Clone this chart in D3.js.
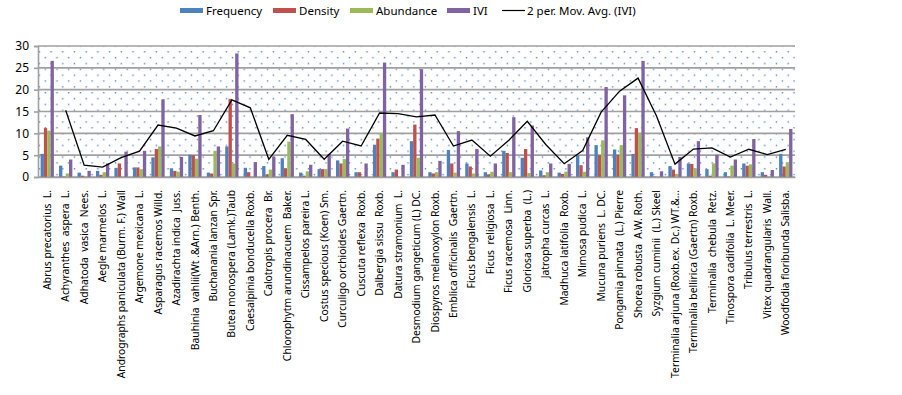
<!DOCTYPE html>
<html>
<head>
<meta charset="utf-8">
<script src="https://cdn.jsdelivr.net/npm/d3@7"></script>
<style>
    body { margin: 0; background: #fff; }
    svg text { font-family: "Noto Sans", sans-serif; fill: #000; }
    .xlab { white-space: pre; }
</style>
</head>
<body>
<script>
const width = 902
    , height = 395;
const margin = {left: 38, right: 107, top: 46, bottom: 218};
const plotw = width - margin.left - margin.right
    , ploth = height - margin.top - margin.bottom;

const species = [
    "Abrus precatorius  L.", "Achyranthes  aspera  L.", "Adhatoda  vasica  Nees.", "Aegle marmelos  L.",
    "Andrographs paniculata (Burm. F.) Wall", "Argemone mexicana  L.", "Asparagus racemos Willd.",
    "Azadirachta indica  Juss.", "Bauhinia  vahlii(Wt .&Arn.) Benth.", "Buchanania lanzan Spr.",
    "Butea monospera (Lamk.)Taub", "Caesalpinia bonducella Roxb.", "Calotropis procera  Br.",
    "Chlorophytm arundinacuem  Baker.", "Cissampelos pareira L.", "Costus specious (Koen) Sm.",
    "Curculigo orchioides Gaertn.", "Cuscuta reflexa  Roxb.", "Dalbergia sissu  Roxb.",
    "Datura stramonium  L.", "Desmodium gangeticum (L) DC.", "Diospyros melanoxylon Roxb.",
    "Emblica officinalis  Gaertn.", "Ficus bengalensis  L.", "Ficus  religiosa  L.",
    "Ficus racemosa  Linn.", "Gloriosa superba  (L.)", "Jatropha curcas  L.", "Madhuca latifolia  Roxb.",
    "Mimosa pudica  L.", "Mucuna puriens  L. DC.", "Pongamia pinnata  (L.) Pierre",
    "Shorea robusta  A.W. Roth.", "Syzgium cuminii  (L.) Skeel", "Terminalia arjuna (Roxb.ex. Dc.) WT.&...",
    "Terminalia bellirica (Gaertn) Roxb.", "Terminalia  chebula  Retz.", "Tinospora cadifolia  L. Meer.",
    "Tribulus terrestris  L.", "Vitex quadrangularis  Wall.", "Woodfodia floribunda Salisba."
];

const frequency = [5.3, 2.6, 1.0, 1.4, 2.1, 2.2, 4.5, 2.0, 5.1, 1.0, 7.0, 2.1, 2.5, 4.3, 1.0, 1.8, 3.8, 1.1, 7.4, 1.1,
    8.2, 1.1, 6.2, 3.1, 1.1, 6.0, 4.4, 1.5, 1.0, 5.0, 7.3, 6.3, 5.3, 1.1, 2.5, 3.1, 1.8, 1.1, 3.1, 1.1, 5.3];
const density = [11.2, 0.1, 0.3, 0.5, 3.1, 2.2, 6.4, 1.4, 5.0, 0.8, 17.9, 1.1, 0.6, 2.0, 0.3, 1.8, 3.1, 1.1, 8.8, 1.7,
    12.0, 0.8, 3.1, 2.4, 0.6, 5.5, 6.4, 0.4, 0.7, 2.7, 5.0, 5.1, 11.2, 0.1, 1.7, 3.0, 0.3, 0.1, 2.6, 0.5, 2.4];
const abundance = [10.6, 0.8, 0.1, 1.1, 0.1, 1.8, 7.0, 1.2, 4.2, 6.0, 3.1, 0.1, 1.7, 8.1, 1.3, 1.8, 4.1, 0.1, 10.0, 0.1,
    4.4, 1.1, 1.0, 0.8, 1.2, 1.1, 0.9, 1.1, 1.2, 1.2, 8.4, 7.3, 10.0, 0.1, 0.7, 2.0, 3.1, 2.6, 2.9, 0.1, 3.4];
const ivi = [26.6, 4.0, 1.4, 3.1, 5.8, 6.0, 17.8, 4.6, 14.2, 7.0, 28.3, 3.4, 4.7, 14.4, 2.8, 5.3, 11.1, 3.1, 26.2, 2.8,
    24.7, 3.7, 10.5, 6.4, 3.1, 13.7, 11.8, 3.1, 3.0, 9.1, 20.6, 18.7, 26.6, 1.3, 4.6, 8.2, 5.1, 4.0, 8.7, 1.6, 11.0];

const seriesNames = ["Frequency", "Density", "Abundance", "IVI"];
const seriesColors = ["#4f81bd", "#c0504d", "#9bbb59", "#8064a2"];
const yTicks = [0, 5, 10, 15, 20, 25, 30];

var table = species.map(function(s, i) {
    return {name: s, values: [frequency[i], density[i], abundance[i], ivi[i]]};
});

// 2 period moving average of IVI (starts at the second species)
var movAvg = [];
for (let i = 1; i < ivi.length; i++) {
    movAvg.push({i: i, v: (ivi[i - 1] + ivi[i]) / 2});
}

var svg = d3.select("body").append("svg")
    .attr("width", width)
    .attr("height", height);

var defs = svg.append("defs");
var pat = defs.append("pattern")
    .attr("id", "dots")
    .attr("patternUnits", "userSpaceOnUse")
    .attr("x", margin.left)
    .attr("y", margin.top)
    .attr("width", 11.7)
    .attr("height", 11.7);
pat.append("rect").attr("x", 3.7).attr("y", 0).attr("width", 1.4).attr("height", 1.4).attr("fill", "#4f86cc");
pat.append("rect").attr("x", 9.5).attr("y", 5.9).attr("width", 1.4).attr("height", 1.4).attr("fill", "#4f86cc");

var g = svg.append("g")
    .attr("transform", "translate(" + margin.left + "," + margin.top + ")");

var x0 = d3.scaleBand()
    .domain(d3.range(species.length))
    .range([0, plotw])
    .paddingInner(0.28)
    .paddingOuter(0.14);
var x1 = d3.scaleBand()
    .domain(d3.range(4))
    .range([0, x0.bandwidth()]);
var y = d3.scaleLinear()
    .domain([0, 30])
    .range([ploth, 0]);

g.append("rect")
    .attr("width", plotw)
    .attr("height", ploth)
    .attr("fill", "url(#dots)");

g.selectAll(".grid")
    .data(yTicks)
    .enter()
    .append("line")
    .attr("class", "grid")
    .attr("x1", 0)
    .attr("x2", plotw)
    .attr("y1", d => y(d))
    .attr("y2", d => y(d))
    .attr("stroke", "#a0a0a0")
    .attr("stroke-width", 1.6);

var yAxis = d3.axisLeft(y)
    .tickValues(yTicks)
    .tickSize(4)
    .tickPadding(5);
var ya = g.append("g")
    .attr("class", "y axis")
    .call(yAxis);
ya.select(".domain").attr("stroke", "#a0a0a0").attr("stroke-width", 1.6);
ya.selectAll(".tick line").attr("stroke", "#a0a0a0").attr("stroke-width", 1.6);
ya.selectAll(".tick text").style("font-size", "12px");

var groups = g.selectAll(".species")
    .data(table)
    .enter()
    .append("g")
    .attr("class", "species")
    .attr("transform", (d, i) => "translate(" + x0(i) + ",0)");
groups.selectAll("rect")
    .data(d => d.values)
    .enter()
    .append("rect")
    .attr("x", (d, j) => x1(j))
    .attr("width", x1.bandwidth())
    .attr("y", d => y(d))
    .attr("height", d => ploth - y(d))
    .attr("fill", (d, j) => seriesColors[j]);

var line = d3.line()
    .x(d => x0(d.i) + x0.bandwidth() / 2)
    .y(d => y(d.v));
g.append("path")
    .datum(movAvg)
    .attr("fill", "none")
    .attr("stroke", "#000")
    .attr("stroke-width", 1.3)
    .attr("d", line);

var xAxis = d3.axisBottom(x0)
    .tickSize(0)
    .tickFormat(i => species[i]);
var xa = g.append("g")
    .attr("class", "x axis")
    .attr("transform", "translate(0," + ploth + ")")
    .call(xAxis);
xa.select(".domain").attr("stroke", "#a0a0a0").attr("stroke-width", 1.6);
xa.selectAll(".tick text")
    .attr("class", "xlab")
    .attr("transform", "rotate(-90)")
    .attr("x", -13)
    .attr("y", 0)
    .attr("dy", "0.35em")
    .style("text-anchor", "end")
    .style("font-size", "10.3px");

// legend
var legendX = [180, 273, 350, 447];
var legend = svg.append("g").attr("class", "legend");
seriesNames.forEach(function(n, j) {
    legend.append("rect")
        .attr("x", legendX[j])
        .attr("y", 8)
        .attr("width", 23)
        .attr("height", 5)
        .attr("fill", seriesColors[j]);
    legend.append("text")
        .attr("x", legendX[j] + 26)
        .attr("y", 15)
        .style("font-size", "11.5px")
        .text(n);
});
legend.append("line")
    .attr("x1", 502)
    .attr("x2", 525)
    .attr("y1", 10.5)
    .attr("y2", 10.5)
    .attr("stroke", "#000")
    .attr("stroke-width", 1.2);
legend.append("text")
    .attr("x", 527)
    .attr("y", 15)
    .style("font-size", "11.5px")
    .text("2 per. Mov. Avg. (IVI)");
</script>
</body>
</html>
